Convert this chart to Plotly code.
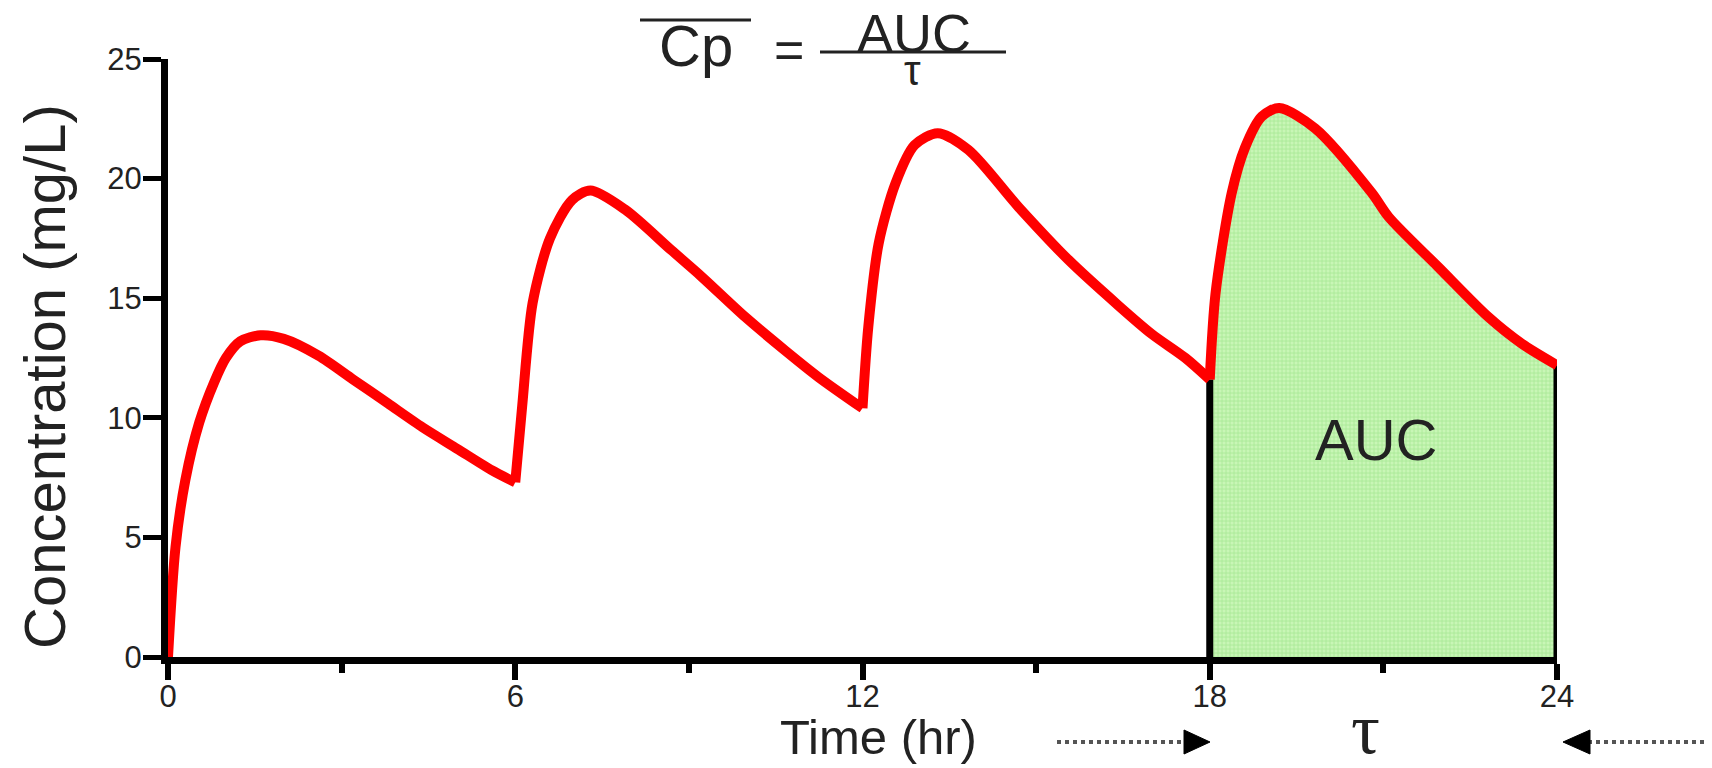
import plotly.graph_objects as go

# ---- data ----
time_hr = [0, 0.13, 0.3, 0.54, 0.8, 1.0, 1.25, 1.6, 2.0, 2.6, 3.2, 3.8, 4.4, 5.0, 5.6, 6.0,
           6.12, 6.3, 6.6, 6.98, 7.3, 7.9, 8.7, 9.22, 9.98, 10.67, 11.24, 12.0,
           12.1, 12.28, 12.57, 12.9, 13.3, 13.83, 14.7, 15.56, 16.42, 17.0, 17.58, 18.0,
           18.1, 18.38, 18.61, 18.9, 19.2, 19.82, 20.8, 21.09, 21.95, 22.82, 23.39, 24.0]
conc_mg_l = [0, 4.6, 7.4, 9.8, 11.5, 12.5, 13.2, 13.45, 13.3, 12.6, 11.6, 10.6, 9.6, 8.7, 7.8, 7.3,
             10.5, 14.8, 17.5, 19.1, 19.5, 18.7, 17.0, 15.9, 14.2, 12.8, 11.7, 10.4,
             13.8, 17.3, 19.8, 21.4, 21.9, 21.2, 18.8, 16.6, 14.7, 13.5, 12.5, 11.6,
             15.2, 19.4, 21.3, 22.6, 22.95, 22.1, 19.4, 18.4, 16.3, 14.2, 13.1, 12.2]
dose_times = [0, 6, 12, 18]
tau = 6
x_tick_vals = [0, 6, 12, 18, 24]
x_minor_vals = [3, 9, 15, 21]
y_tick_vals = [0, 5, 10, 15, 20, 25]

# ---- pixel -> paper helpers (layout only) ----
PL, PR, PT, PB = 168, 1557, 59, 657
W, H = 1712, 768


def px(xp):
    return (xp - PL) / (PR - PL)


def py(yp):
    return (PB - yp) / (PB - PT)


def interval(t0, t1):
    return [i for i, t in enumerate(time_hr) if t0 - 1e-9 <= t <= t1 + 1e-9]


fig = go.Figure()

# AUC shaded area over the last dosing interval
auc_start = dose_times[-1]
auc_end = auc_start + tau
idx = interval(auc_start, auc_end)
fig.add_trace(go.Scatter(
    x=[time_hr[i] for i in idx], y=[conc_mg_l[i] for i in idx],
    mode="none", fill="tozeroy", line_shape="spline",
    fillcolor="#b4f0a0",
    fillpattern=dict(shape="+", fgcolor="#86da70", bgcolor="#c8f6b6", size=4, solidity=0.35),
    hoverinfo="skip", showlegend=False))

# black vertical boundaries of the interval
for tb in (auc_start, auc_end):
    j = interval(tb, tb)[0]
    fig.add_trace(go.Scatter(x=[time_hr[j], time_hr[j]], y=[0, conc_mg_l[j]],
                             mode="lines", line=dict(color="black", width=7),
                             hoverinfo="skip", showlegend=False))

# red concentration curve, one smooth piece per dosing interval
for d in dose_times:
    ii = interval(d, d + tau)
    fig.add_trace(go.Scatter(x=[time_hr[i] for i in ii], y=[conc_mg_l[i] for i in ii],
                             mode="lines", line=dict(color="#ff0000", width=10, shape="spline", smoothing=0.8),
                             hoverinfo="skip", showlegend=False))

tick_font = dict(family="Liberation Sans, Arial, sans-serif", size=31, color="#222222")

fig.update_layout(
    width=W, height=H, autosize=False,
    margin=dict(l=PL, r=W - PR, t=PT, b=H - PB, pad=0),
    plot_bgcolor="white", paper_bgcolor="white",
    showlegend=False,
    xaxis=dict(range=[0, 24], tickvals=x_tick_vals, ticktext=[str(v) for v in x_tick_vals],
               showgrid=False, zeroline=False, showline=True, linecolor="black", linewidth=7,
               ticks="outside", ticklen=16, tickwidth=6, tickcolor="black", tickfont=tick_font,
               ticklabelstandoff=-10,
               minor=dict(tickvals=x_minor_vals, ticks="outside", ticklen=9, tickwidth=6, tickcolor="black",
                          showgrid=False)),
    yaxis=dict(range=[0, 25], tickvals=y_tick_vals, ticktext=[str(v) for v in y_tick_vals],
               showgrid=False, zeroline=False, showline=True, linecolor="black", linewidth=7,
               ticks="outside", ticklen=18, tickwidth=5, tickcolor="black", tickfont=tick_font,
               ticklabelstandoff=-5),
)

txt = dict(family="Liberation Sans, Arial, sans-serif", color="#222222")
ann = [
    dict(text="Concentration (mg/L)", x=px(44), y=py(377), textangle=-90, font=dict(size=58, **txt)),
    dict(text="Time (hr)", x=px(878), y=py(737), font=dict(size=49, **txt)),
    dict(text="τ", x=px(1365), y=py(729), font=dict(size=72, family="Liberation Serif, serif", color="#222222")),
    dict(text="AUC", x=px(1376), y=py(439), font=dict(size=58, **txt)),
    dict(text="Cp", x=px(696), y=py(46), font=dict(size=58, **txt)),
    dict(text="=", x=px(789), y=py(50), font=dict(size=52, **txt)),
    dict(text="AUC", x=px(914), y=py(33), font=dict(size=54, **txt)),
    dict(text="τ", x=px(912), y=py(70), font=dict(size=42, **txt)),
]
for a in ann:
    fig.add_annotation(xref="paper", yref="paper", showarrow=False, xanchor="center", yanchor="middle", **a)

line_col = "#222222"
shapes = [
    # overline on Cp and fraction bar
    dict(type="line", x0=px(640), x1=px(751), y0=py(20), y1=py(20), line=dict(color=line_col, width=3)),
    dict(type="line", x0=px(820), x1=px(1006), y0=py(52), y1=py(52), line=dict(color=line_col, width=3)),
    # right-pointing arrow toward 18
    dict(type="line", x0=px(1057), x1=px(1186), y0=py(742), y1=py(742), line=dict(color="#555555", width=4, dash="dot")),
    dict(type="path", path=f"M {px(1184)} {py(730)} L {px(1210)} {py(742)} L {px(1184)} {py(754)} Z",
         fillcolor="black", line=dict(color="black", width=1)),
    # left-pointing arrow toward 24
    dict(type="line", x0=px(1588), x1=px(1707), y0=py(742), y1=py(742), line=dict(color="#555555", width=4, dash="dot")),
    dict(type="path", path=f"M {px(1590)} {py(730)} L {px(1563)} {py(742)} L {px(1590)} {py(754)} Z",
         fillcolor="black", line=dict(color="black", width=1)),
]
for s in shapes:
    fig.add_shape(xref="paper", yref="paper", layer="above", **s)

fig.write_html("out.html", config={"displayModeBar": False},
               post_script="document.body.style.margin='0';")
